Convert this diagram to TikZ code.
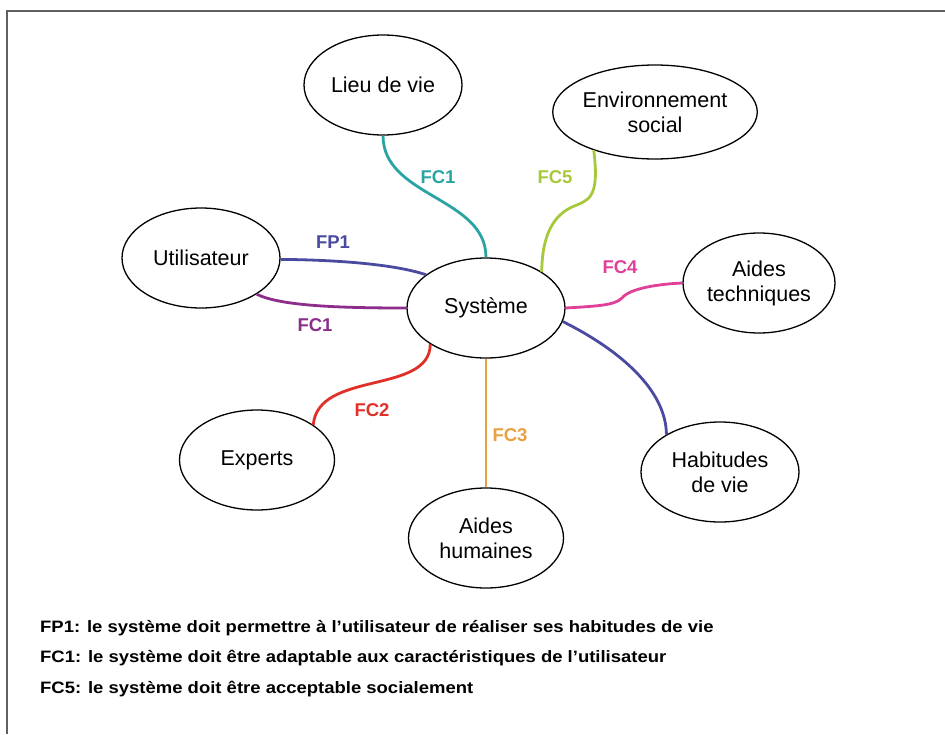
\documentclass[tikz,border=0pt]{standalone}
\usepackage{fontspec}
\setmainfont{Liberation Sans}
\newfontfamily\widefont{Liberation Sans}[FakeStretch=1.12]
\usetikzlibrary{shapes.geometric}
\definecolor{cteal}{HTML}{2AA3A3}
\definecolor{cgreen}{HTML}{A8C83C}
\definecolor{cblue}{HTML}{4A4AA0}
\definecolor{cpurple}{HTML}{8C2D8C}
\definecolor{cred}{HTML}{E0302A}
\definecolor{corange}{HTML}{E8A040}
\definecolor{cpink}{HTML}{E0409A}
\definecolor{cframe}{HTML}{606060}
\tikzset{
  bubble/.style={ellipse, draw=black, line width=1.3pt, minimum width=158pt, minimum height=100pt, inner sep=0pt, align=center, font=\fontsize{21.5}{25}\selectfont},
  link/.style={line width=2.8pt},
  lab/.style={font=\bfseries\fontsize{18.5}{21}\selectfont},
  legend/.style={anchor=west, font=\widefont\bfseries\fontsize{16.5}{19}\selectfont, inner sep=0pt}
}
\begin{document}
\begin{tikzpicture}[x=1pt, y=-1pt]
\useasboundingbox (0,0) rectangle (945,734);
\fill[white] (0,0) rectangle (945,734);
\draw[cframe, line width=2pt] (7,734) -- (7,11) -- (945,11);

\node[bubble] (lieu) at (383,85) {Lieu de vie};
\node[bubble] (env) at (655,112) [minimum height=94pt] {Environnement\\social};
\node[bubble] (util) at (201,258) {Utilisateur};
\node[bubble] (sys) at (486,308) {Système};
\node[bubble] (tech) at (759,283) [minimum width=152pt] {Aides\\techniques};
\node[bubble] (hab) at (720,472) {Habitudes\\de vie};
\node[bubble] (exp) at (257,460) [minimum width=155pt] {Experts};
\node[bubble] (hum) at (486,538) [minimum width=155pt] {Aides\\humaines};

\draw[link, cteal] (lieu.270) .. controls (383,197) and (486,197) .. (sys.90);
\draw[link, cgreen] (env.212) .. controls (600,200) and (588,200) .. (572,207)
   .. controls (548,218) and (542,245) .. (sys.33);
\draw[link, cblue] (util.-1) .. controls (350,260) and (400,266) .. (sys.151);
\draw[link, cpurple] (util.-33) .. controls (280,306) and (340,308) .. (sys.180);
\draw[link, cred] (exp.32) .. controls (318,370) and (430,395) .. (sys.213);
\draw[link, corange] (sys.270) -- (hum.90);
\draw[link, cpink] (sys.0) .. controls (600,306) and (615,305) .. (622,298)
   .. controls (630,288) and (660,284) .. (tech.180);
\draw[link, cblue] (sys.-10) .. controls (620,350) and (666,390) .. (hab.145);

\node[lab, text=cteal] (l1) at (438,177) {FC1};
\node[lab, text=cgreen] (l5) at (555,177) {FC5};
\node[lab, text=cblue] (lp) at (333,242) {FP1};
\node[lab, text=cpurple] (l1b) at (315,325) {FC1};
\node[lab, text=cpink] (l4) at (620,267) {FC4};
\node[lab, text=cred] (l2) at (372,410) {FC2};
\node[lab, text=corange] (l3) at (510,435) {FC3};

\node[legend] (t1) at (40,628) {FP1: le système doit permettre à l’utilisateur de réaliser ses habitudes de vie};
\node[legend] (t2) at (40,658) {FC1: le système doit être adaptable aux caractéristiques de l’utilisateur};
\node[legend] (t3) at (40,689) {FC5: le système doit être acceptable socialement};
\end{tikzpicture}
\end{document}
